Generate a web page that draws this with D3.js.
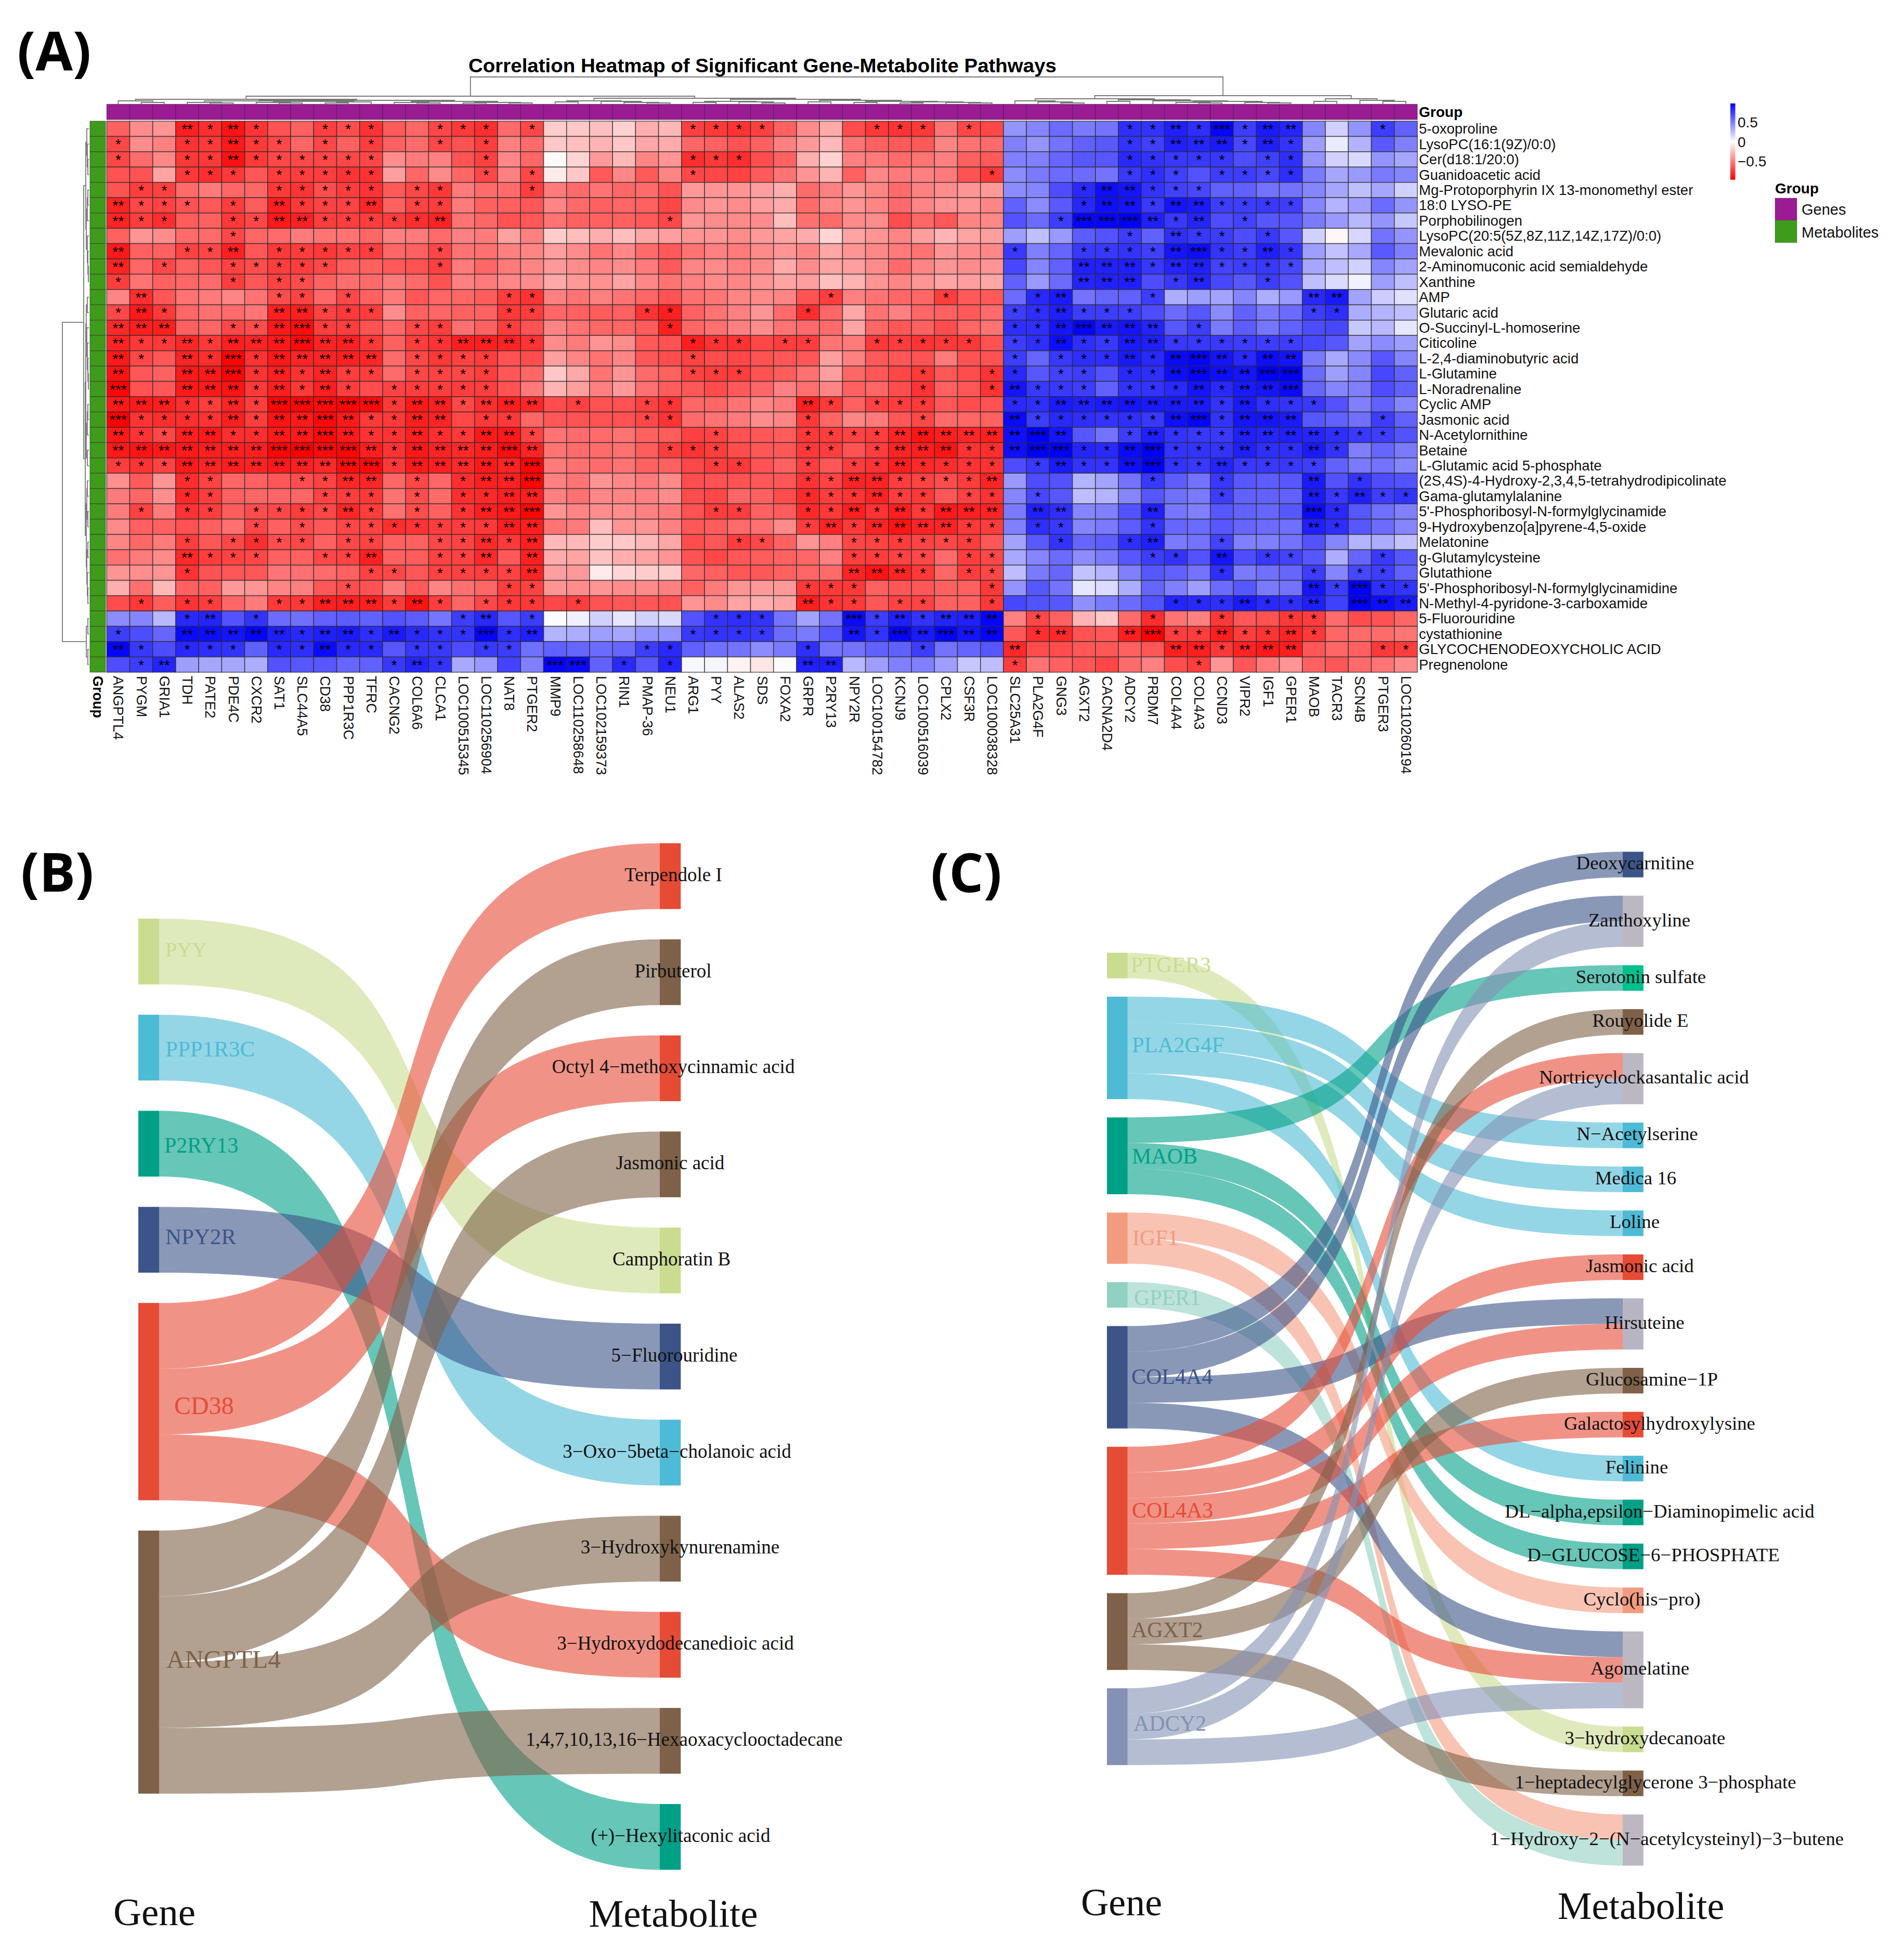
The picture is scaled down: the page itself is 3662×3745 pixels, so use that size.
<!DOCTYPE html>
<html>
<head>
<meta charset="utf-8">
<script src="https://cdn.jsdelivr.net/npm/d3@7"></script>
<style>
html,body{margin:0;padding:0;background:#fff}
svg{display:block}
</style>
</head>
<body>
<svg id="chart" width="3662" height="3745" viewBox="0 0 3662 3745"></svg>
<script>
// ---------- Panel A data ----------
const genes=["ANGPTL4","PYGM","GRIA1","TDH","PATE2","PDE4C","CXCR2","SAT1","SLC44A5","CD38","PPP1R3C","TFRC","CACNG2","COL6A6","CLCA1","LOC100515345","LOC110256904","NAT8","PTGER2","MMP9","LOC110258648","LOC102159373","RIN1","PMAP-36","NEU1","ARG1","PYY","ALAS2","SDS","FOXA2","GRPR","P2RY13","NPY2R","LOC100154782","KCNJ9","LOC100516039","CPLX2","CSF3R","LOC100038328","SLC25A31","PLA2G4F","GNG3","AGXT2","CACNA2D4","ADCY2","PRDM7","COL4A4","COL4A3","CCND3","VIPR2","IGF1","GPER1","MAOB","TACR3","SCN4B","PTGER3","LOC110260194"];
const metabolites=["5-oxoproline","LysoPC(16:1(9Z)/0:0)","Cer(d18:1/20:0)","Guanidoacetic acid","Mg-Protoporphyrin IX 13-monomethyl ester","18:0 LYSO-PE","Porphobilinogen","LysoPC(20:5(5Z,8Z,11Z,14Z,17Z)/0:0)","Mevalonic acid","2-Aminomuconic acid semialdehyde","Xanthine","AMP","Glutaric acid","O-Succinyl-L-homoserine","Citicoline","L-2,4-diaminobutyric acid","L-Glutamine","L-Noradrenaline","Cyclic AMP","Jasmonic acid","N-Acetylornithine","Betaine","L-Glutamic acid 5-phosphate","(2S,4S)-4-Hydroxy-2,3,4,5-tetrahydrodipicolinate","Gama-glutamylalanine","5'-Phosphoribosyl-N-formylglycinamide","9-Hydroxybenzo[a]pyrene-4,5-oxide","Melatonine","g-Glutamylcysteine","Glutathione","5'-Phosphoribosyl-N-formylglycinamidine","N-Methyl-4-pyridone-3-carboxamide","5-Fluorouridine","cystathionine","GLYCOCHENODEOXYCHOLIC ACID","Pregnenolone"];

const corr00=[-.62,-.45,-.42,-.88,-.82,-.92,-.8,-.68,-.62,-.75,-.7,-.8,-.65,-.6,-.72,-.78,-.82,-.58,-.72, -.2,-.22,-.25,-.18,-.32,-.28,-.75,-.78,-.8,-.75,-.62,-.45,-.33,-.7,-.78,-.8,-.78,-.55,-.72,-.72, .42,.48,.58,.52,.55,.82,.8,.88,.82,.98,.76,.9,.86,.48,.18,.42,.76,.62];
const corr01=[-.72,-.45,-.5,-.8,-.78,-.9,-.78,-.72,-.6,-.72,-.62,-.76,-.62,-.58,-.72,-.68,-.76,-.5,-.58, -.22,-.25,-.3,-.22,-.35,-.33,-.6,-.62,-.68,-.62,-.5,-.4,-.28,-.55,-.62,-.65,-.65,-.48,-.55,-.58, .5,.42,.55,.62,.65,.8,.75,.88,.85,.9,.72,.88,.8,.38,.08,.3,.65,.5];
const corr02=[-.72,-.58,-.47,-.78,-.78,-.93,-.78,-.72,-.72,-.72,-.72,-.72,-.45,-.52,-.5,-.68,-.75,-.47,-.6, -.02,-.17,-.4,-.28,-.48,-.42,-.82,-.78,-.82,-.7,-.62,-.32,-.18,-.5,-.52,-.58,-.55,-.5,-.62,-.65, .5,.5,.6,.66,.66,.84,.8,.78,.78,.78,.7,.75,.82,.42,.18,.15,.42,.35];
const corr03=[-.68,-.68,-.36,-.78,-.82,-.78,-.66,-.76,-.76,-.76,-.8,-.8,-.38,-.6,-.46,-.6,-.72,-.5,-.72, -.08,-.22,-.65,-.47,-.65,-.48,-.72,-.72,-.74,-.65,-.55,-.42,-.3,-.62,-.47,-.52,-.5,-.52,-.68,-.78, .45,.52,.58,.58,.55,.78,.82,.75,.68,.76,.76,.72,.82,.52,.35,.4,.52,.48];
const corr04=[-.68,-.76,-.75,-.58,-.52,-.6,-.6,-.78,-.8,-.7,-.76,-.8,-.65,-.72,-.78,-.52,-.58,-.58,-.76, -.52,-.58,-.55,-.6,-.58,-.68,-.4,-.42,-.42,-.38,-.32,-.58,-.5,-.42,-.48,-.58,-.5,-.45,-.42,-.4, .45,.48,.7,.84,.95,.92,.8,.75,.72,.62,.62,.55,.55,.48,.35,.25,.35,.18];
const corr05=[-.86,-.72,-.74,-.68,-.65,-.76,-.64,-.88,-.78,-.74,-.74,-.85,-.62,-.74,-.76,-.52,-.62,-.62,-.66, -.48,-.58,-.62,-.6,-.62,-.72,-.46,-.42,-.45,-.38,-.33,-.58,-.47,-.42,-.48,-.58,-.48,-.42,-.42,-.48, .62,.45,.65,.85,.94,.92,.78,.92,.9,.76,.76,.78,.76,.48,.3,.38,.58,.42];
const corr06=[-.86,-.76,-.82,-.64,-.62,-.78,-.72,-.9,-.87,-.76,-.76,-.76,-.76,-.82,-.86,-.55,-.6,-.68,-.66, -.55,-.62,-.62,-.62,-.65,-.72,-.42,-.45,-.46,-.45,-.26,-.56,-.58,-.46,-.45,-.7,-.6,-.66,-.48,-.47, .68,.58,.76,.98,.98,1,.88,.78,.86,.7,.74,.66,.66,.52,.4,.28,.42,.22];
const corr07=[-.62,-.42,-.45,-.58,-.58,-.72,-.6,-.58,-.52,-.55,-.55,-.6,-.5,-.52,-.58,-.5,-.52,-.37,-.5, -.2,-.26,-.32,-.26,-.35,-.38,-.42,-.42,-.45,-.4,-.36,-.33,-.17,-.36,-.42,-.48,-.38,-.3,-.36,-.38, .38,.25,.4,.64,.68,.76,.62,.82,.78,.76,.7,.78,.66,.18,-.03,.16,.55,.42];
const corr08=[-.9,-.62,-.62,-.74,-.72,-.87,-.66,-.78,-.76,-.78,-.74,-.76,-.6,-.62,-.72,-.55,-.56,-.5,-.48, -.38,-.45,-.55,-.47,-.58,-.65,-.55,-.5,-.52,-.46,-.42,-.48,-.35,-.42,-.47,-.52,-.55,-.42,-.45,-.47, .78,.5,.6,.78,.78,.8,.75,.92,.95,.8,.76,.88,.8,.38,.24,.34,.65,.5];
const corr09=[-.86,-.6,-.72,-.62,-.66,-.74,-.7,-.76,-.76,-.72,-.64,-.62,-.65,-.68,-.75,-.52,-.6,-.52,-.48, -.4,-.45,-.48,-.45,-.52,-.65,-.48,-.46,-.5,-.46,-.33,-.45,-.36,-.38,-.45,-.58,-.48,-.42,-.45,-.42, .72,.48,.62,.87,.87,.88,.78,.86,.88,.74,.76,.78,.72,.35,.25,.18,.48,.36];
const corr10=[-.76,-.55,-.62,-.6,-.58,-.76,-.66,-.74,-.7,-.62,-.57,-.58,-.52,-.58,-.68,-.5,-.52,-.47,-.45, -.34,-.4,-.43,-.36,-.47,-.55,-.5,-.46,-.48,-.42,-.36,-.38,-.25,-.3,-.42,-.48,-.42,-.36,-.38,-.35, .62,.4,.58,.86,.87,.88,.7,.78,.86,.72,.66,.76,.68,.25,.14,.05,.38,.25];
const corr11=[-.48,-.82,-.66,-.55,-.52,-.48,-.55,-.7,-.74,-.6,-.72,-.62,-.52,-.66,-.6,-.6,-.64,-.76,-.8, -.5,-.55,-.5,-.55,-.6,-.68,-.56,-.54,-.48,-.46,-.48,-.68,-.76,-.5,-.55,-.6,-.6,-.76,-.65,-.65, .58,.84,.9,.55,.6,.62,.76,.32,.38,.36,.48,.32,.4,.84,.9,.36,.2,.12];
const corr12=[-.72,-.9,-.78,-.6,-.56,-.58,-.54,-.88,-.88,-.74,-.78,-.76,-.45,-.62,-.6,-.62,-.62,-.78,-.76, -.6,-.62,-.64,-.62,-.8,-.88,-.62,-.55,-.5,-.42,-.58,-.82,-.6,-.35,-.55,-.5,-.6,-.62,-.65,-.58, .76,.82,.88,.76,.76,.76,.7,.58,.66,.46,.62,.52,.58,.76,.82,.32,.3,.25];
const corr13=[-.84,-.88,-.88,-.62,-.6,-.72,-.7,-.9,-.95,-.76,-.76,-.68,-.6,-.72,-.76,-.56,-.62,-.76,-.68, -.48,-.55,-.6,-.6,-.64,-.88,-.6,-.56,-.5,-.45,-.55,-.58,-.58,-.36,-.6,-.66,-.62,-.7,-.6,-.55, .82,.82,.92,.98,.9,.92,.86,.66,.76,.52,.64,.54,.62,.7,.72,.22,.28,.1];
const corr14=[-.86,-.78,-.78,-.85,-.78,-.88,-.86,-.9,-.96,-.86,-.87,-.78,-.62,-.76,-.8,-.88,-.88,-.86,-.8, -.45,-.52,-.42,-.45,-.65,-.68,-.88,-.8,-.8,-.72,-.76,-.76,-.54,-.52,-.78,-.76,-.8,-.78,-.78,-.68, .76,.82,.95,.82,.78,.9,.88,.78,.78,.78,.76,.76,.76,.72,.66,.36,.45,.38];
const corr15=[-.9,-.72,-.66,-.86,-.82,-.98,-.8,-.9,-.86,-.86,-.87,-.85,-.58,-.72,-.78,-.74,-.76,-.68,-.7, -.38,-.48,-.55,-.48,-.66,-.7,-.74,-.7,-.72,-.68,-.66,-.66,-.38,-.5,-.65,-.66,-.68,-.52,-.68,-.68, .76,.6,.78,.82,.82,.9,.84,.96,.98,.92,.84,.95,.92,.52,.34,.46,.66,.48];
const corr16=[-.92,-.66,-.62,-.9,-.9,-.98,-.8,-.88,-.8,-.86,-.76,-.76,-.58,-.72,-.74,-.72,-.76,-.66,-.6, -.22,-.34,-.55,-.42,-.58,-.62,-.74,-.76,-.76,-.68,-.64,-.56,-.38,-.6,-.66,-.72,-.78,-.66,-.7,-.8, .84,.66,.74,.76,.68,.84,.82,.95,.98,.94,.92,1,1,.58,.38,.48,.72,.62];
const corr17=[-.98,-.68,-.66,-.9,-.9,-.92,-.78,-.88,-.78,-.88,-.76,-.7,-.74,-.76,-.76,-.76,-.76,-.68,-.52, -.3,-.38,-.5,-.4,-.56,-.64,-.66,-.7,-.65,-.6,-.5,-.56,-.48,-.62,-.6,-.7,-.8,-.62,-.66,-.8, .92,.78,.78,.76,.62,.8,.8,.84,.92,.84,.9,.92,.96,.6,.48,.5,.7,.62];
const corr18=[-.9,-.9,-.88,-.82,-.76,-.86,-.76,-.98,-.98,-.96,-.98,-.96,-.78,-.9,-.88,-.72,-.82,-.88,-.85, -.7,-.75,-.68,-.68,-.75,-.8,-.6,-.6,-.55,-.48,-.52,-.88,-.78,-.62,-.74,-.76,-.78,-.66,-.7,-.68, .84,.82,.9,.88,.9,.92,.9,.9,.9,.8,.9,.82,.8,.78,.68,.5,.62,.48];
const corr19=[-1,-.8,-.82,-.82,-.8,-.88,-.76,-.92,-.9,-.96,-.9,-.78,-.78,-.88,-.86,-.72,-.78,-.78,-.6, -.66,-.68,-.68,-.68,-.72,-.8,-.58,-.55,-.52,-.45,-.48,-.78,-.6,-.48,-.52,-.66,-.72,-.58,-.6,-.62, .96,.76,.84,.82,.8,.82,.78,.94,.98,.8,.92,.92,.9,.66,.62,.56,.76,.62];
const corr20=[-.9,-.8,-.72,-.88,-.9,-.82,-.82,-.9,-.9,-.96,-.9,-.8,-.8,-.88,-.82,-.78,-.9,-.9,-.74, -.55,-.58,-.58,-.55,-.62,-.64,-.75,-.74,-.68,-.66,-.64,-.78,-.76,-.74,-.76,-.86,-.92,-.88,-.85,-.88, .94,1,.92,.66,.55,.76,.88,.8,.78,.78,.88,.86,.88,.86,.82,.78,.76,.68];
const corr21=[-.9,-.92,-.9,-.9,-.88,-.88,-.88,-.98,-1,-.96,-.98,-.88,-.8,-.9,-.86,-.84,-.88,-.95,-.86, -.55,-.58,-.58,-.56,-.64,-.76,-.8,-.76,-.7,-.66,-.66,-.78,-.76,-.68,-.76,-.86,-.88,-.92,-.8,-.82, .94,1,1,.86,.84,.96,1,.8,.8,.8,.88,.82,.82,.9,.8,.5,.6,.52];
const corr22=[-.76,-.8,-.74,-.9,-.86,-.88,-.86,-.9,-.88,-.84,-.95,-.96,-.78,-.9,-.88,-.84,-.9,-.86,-.98, -.52,-.56,-.58,-.55,-.62,-.62,-.72,-.76,-.78,-.68,-.62,-.76,-.66,-.76,-.8,-.88,-.84,-.82,-.8,-.8, .7,.78,.9,.8,.8,.94,1,.8,.78,.86,.78,.78,.78,.76,.62,.52,.55,.48];
const corr23=[-.44,-.65,-.42,-.82,-.74,-.6,-.62,-.66,-.7,-.74,-.85,-.85,-.6,-.72,-.6,-.82,-.88,-.87,-.98, -.5,-.54,-.42,-.47,-.52,-.46,-.7,-.68,-.68,-.66,-.66,-.8,-.74,-.86,-.86,-.76,-.74,-.7,-.76,-.86, .4,.7,.68,.3,.36,.55,.78,.64,.55,.78,.66,.64,.66,.9,.68,.8,.7,.68];
const corr24=[-.52,-.6,-.44,-.84,-.76,-.62,-.6,-.6,-.6,-.74,-.76,-.78,-.55,-.7,-.58,-.82,-.84,-.88,-.88, -.5,-.56,-.47,-.48,-.5,-.45,-.7,-.72,-.6,-.62,-.7,-.84,-.76,-.8,-.86,-.76,-.78,-.66,-.74,-.8, .48,.72,.66,.26,.3,.48,.66,.56,.52,.76,.62,.62,.62,.9,.78,.88,.76,.8];
const corr25=[-.52,-.74,-.52,-.8,-.76,-.64,-.7,-.72,-.76,-.72,-.85,-.76,-.56,-.7,-.62,-.8,-.88,-.9,-.98, -.42,-.48,-.45,-.45,-.5,-.52,-.68,-.76,-.76,-.62,-.64,-.84,-.78,-.88,-.8,-.88,-.78,-.9,-.88,-.86, .52,.88,.82,.48,.5,.68,.88,.54,.5,.66,.62,.6,.66,.96,.84,.66,.56,.5];
const corr26=[-.46,-.62,-.62,-.68,-.62,-.56,-.72,-.62,-.7,-.66,-.72,-.74,-.82,-.8,-.76,-.76,-.78,-.88,-.88, -.55,-.52,-.26,-.42,-.42,-.5,-.66,-.64,-.58,-.56,-.46,-.76,-.86,-.78,-.86,-.92,-.86,-.86,-.78,-.76, .5,.82,.78,.48,.52,.64,.8,.6,.58,.66,.6,.58,.56,.88,.82,.66,.58,.48];
const corr27=[-.48,-.6,-.52,-.76,-.66,-.72,-.82,-.7,-.72,-.62,-.72,-.74,-.62,-.62,-.72,-.74,-.84,-.78,-.88, -.28,-.28,-.2,-.22,-.28,-.35,-.7,-.66,-.76,-.72,-.62,-.42,-.5,-.72,-.74,-.76,-.74,-.72,-.76,-.66, .36,.65,.8,.6,.64,.82,.88,.52,.55,.74,.5,.5,.55,.68,.48,.3,.33,.24];
const corr28=[-.56,-.52,-.46,-.84,-.76,-.74,-.72,-.62,-.62,-.72,-.74,-.88,-.62,-.64,-.74,-.74,-.84,-.65,-.88, -.33,-.36,-.24,-.32,-.36,-.42,-.68,-.72,-.66,-.64,-.62,-.6,-.5,-.76,-.76,-.74,-.72,-.58,-.76,-.72, .34,.48,.58,.45,.52,.66,.76,.8,.68,.92,.7,.78,.74,.66,.32,.6,.78,.66];
const corr29=[-.42,-.44,-.42,-.8,-.68,-.66,-.66,-.54,-.56,-.58,-.62,-.74,-.72,-.66,-.74,-.74,-.76,-.74,-.86, -.38,-.4,-.08,-.16,-.2,-.2,-.6,-.62,-.66,-.66,-.62,-.6,-.58,-.86,-.92,-.86,-.78,-.6,-.76,-.72, .26,.52,.6,.24,.3,.5,.66,.62,.55,.82,.52,.56,.6,.76,.48,.72,.76,.62];
const corr30=[-.32,-.56,-.28,-.62,-.62,-.4,-.42,-.48,-.5,-.66,-.7,-.68,-.52,-.65,-.48,-.56,-.6,-.76,-.74, -.42,-.45,-.42,-.45,-.46,-.5,-.62,-.52,-.42,-.4,-.4,-.78,-.78,-.78,-.62,-.66,-.66,-.62,-.62,-.78, .42,.66,.55,.1,.14,.32,.6,.5,.38,.58,.66,.52,.55,.92,.76,1,.82,.8];
const corr31=[-.7,-.78,-.64,-.8,-.76,-.6,-.52,-.78,-.78,-.88,-.88,-.88,-.78,-.92,-.76,-.6,-.72,-.78,-.78, -.72,-.76,-.68,-.66,-.66,-.68,-.42,-.46,-.36,-.32,-.36,-.88,-.8,-.78,-.66,-.74,-.74,-.62,-.62,-.78, .72,.68,.66,.44,.52,.58,.68,.86,.84,.82,.9,.84,.82,.88,.75,1,.95,.9];
const corr32=[.45,.48,.28,.84,.86,.68,.8,.58,.56,.62,.64,.62,.68,.64,.54,.76,.84,.66,.76, .01,.06,.18,.1,.18,.15,.68,.8,.82,.8,.55,.36,.55,.96,.76,.88,.8,.86,.88,.98, -.5,-.72,-.62,-.3,-.22,-.58,-.82,-.55,-.5,-.78,-.66,-.68,-.78,-.76,-.58,-.7,-.68,-.6];
const corr33=[.76,.7,.6,.96,.95,.92,.98,.88,.84,.88,.9,.82,.9,.84,.8,.8,.98,.82,.88, .3,.32,.38,.35,.42,.42,.78,.8,.8,.78,.58,.52,.66,.92,.8,.98,.9,.98,.92,.98, -.66,-.82,-.84,-.68,-.66,-.88,-1,-.76,-.76,-.88,-.76,-.8,-.86,-.78,-.6,-.58,-.58,-.54];
const corr34=[.98,.78,.7,.84,.82,.8,.62,.84,.82,.96,.84,.84,.66,.78,.78,.7,.78,.76,.56, .62,.6,.58,.6,.76,.84,.62,.56,.55,.45,.52,.82,.55,.55,.62,.62,.76,.55,.6,.66, -.84,-.7,-.7,-.66,-.66,-.62,-.66,-.88,-.88,-.78,-.86,-.9,-.88,-.66,-.6,-.62,-.78,-.76];
const corr35=[.7,.76,.86,.38,.35,.35,.32,.68,.66,.66,.6,.62,.78,.86,.8,.34,.4,.74,.5, .98,.96,.62,.84,.66,.86,.03,.04,-.05,-.1,.01,.88,.88,.28,.38,.5,.5,.38,.22,.26, -.76,-.55,-.62,-.66,-.72,-.58,-.5,-.7,-.76,-.42,-.66,-.52,-.42,-.62,-.66,-.58,-.54,-.46];
const correlation=[corr00,corr01,corr02,corr03,corr04,corr05,corr06,corr07,corr08,corr09,corr10,corr11,corr12,corr13,corr14,corr15,corr16,corr17,corr18,corr19,corr20,corr21,corr22,corr23,corr24,corr25,corr26,corr27,corr28,corr29,corr30,corr31,corr32,corr33,corr34,corr35];

// number of significance stars per cell, one string per metabolite
const starCounts=[
"0002121001110011101 00000011110000111010 000001121312200010",
"1001121101010010100 00000000000000000000 000001122212100000",
"1001121111110000100 00000011100000000000 000001111101100000",
"0001110111110000101 00000010000000000001 000001110111100000",
"0110000111110110001 00000000000000000000 000122111000000000",
"2111010211120110000 00000000000000000000 000122122111100000",
"2110011221111120000 00000100000000000000 001333212010000000",
"0000010000000000000 00000000000000000000 000001021101000000",
"2001120111110010000 00000000000000000000 100111123112100000",
"2010011111000010000 00000000000000000000 000222122111100000",
"1000010110000000000 00000000000000000000 000222012001000000",
"0200000110100000011 00000000000010000100 012000100000022000",
"1210000221110000011 00001100000100000000 112111000000011000",
"2220011231100110010 00000100000000000000 112322201000000000",
"2112122232210112221 00000011101100111110 112112211111100000",
"2102131222220111100 00000010000000000000 101112123212200000",
"2002231212110111100 00000011100000001001 101101123223300000",
"3002221212101111100 00000000000000001001 211101112122300000",
"2221121333331221222 01001100000210111000 112222222121110000",
"3111121223211220110 00001100000100001000 211111123122200010",
"2112211223211211221 00000001000111122222 232001211122221110",
"2222222333321222232 00000111000110122211 233112311121121000",
"1112222222331222223 00000001100101121111 012112311211110000",
"0001100011220101223 00000000000112211112 000000100100020100",
"0001100001110101122 00000000000111211011 010000000100021211",
"0101101111210101223 00000001100112121222 022000200000031000",
"0000001010111111122 00000000000121222211 011000100000021000",
"0001011110110011212 00000000110001111110 001001200100000000",
"0002111001120011202 00000000000001111011 000000110201100010",
"0001000000011011112 00000000000002221011 000000000100010110",
"0000000000100000011 00000000000111000001 000000000000021311",
"0101100112221210111 01000000000211011001 000000011121120322",
"0001201000000001201 00000001110003121222 010000100100110000",
"1002222212212111312 00000011110002132322 012002311211210000",
"2101110112110110110 00001100000100001000 200000022122200011",
"0120000000001210000 33010100000220000000 100000001000000000"
];
// dendrogram merges: [height, left, right], a plain number is a leaf index
const geneTree=[52,
 [15,
  [9,[6,0,[3,1,2]],[7,[6,[3,3,[2,4,5]],[5,[3,6,[2,7,8]],[4,[2,9,10],11]]],[5,[3,12,[2,13,14]],[3,[2,15,16],[2,17,18]]]]],
  [11,[6,[4,19,20],[5,21,[3,22,[2,23,24]]]],[9,[5,[3,25,26],[4,27,[2,28,29]]],[7,[4,30,31],[5,[3,32,33],[4,[2,34,35],[3,36,[2,37,38]]]]]]]
 ],
 [16,[10,[6,39,[4,40,[2,41,42]]],[8,[5,43,44],[6,45,[5,[3,46,[2,47,48]],[3,49,[2,50,51]]]]]],[10,[5,52,53],[7,54,[5,55,56]]]]
];
const metaboliteTree=[51,
 [10,
  [6,[4,0,[3,1,[2,2,3]]],[5,[3,[2,4,5],6],[3,7,[2,8,[1,9,10]]]]],
  [7,[6,[5,[3,11,12],[4,13,[3,14,[2,15,[1,16,17]]]]],[5,[3,[2,18,19],20],[3,21,22]]],[5,[4,[3,23,24],[2,25,26]],[4,[2,27,28],[3,29,[2,30,31]]]]]
 ],
 [5,[2,32,33],[2,34,35]]
];
const colorTicks=[0.5,0,-0.5];
const groupNames=["Genes","Metabolites"];
const groupColors=["#9b1b94","#3f9b1a"];

// ---------- Panel B data ----------
const genesB=["PYY","PPP1R3C","P2RY13","NPY2R","CD38","ANGPTL4"];
const geneColorsB=["#c9dc8f","#4dbbd5","#00a087","#3c5488","#e64b35","#7e6148"];
const metabolitesB=["Terpendole I","Pirbuterol","Octyl 4−methoxycinnamic acid","Jasmonic acid","Camphoratin B","5−Fluorouridine","3−Oxo−5beta−cholanoic acid","3−Hydroxykynurenamine","3−Hydroxydodecanedioic acid","1,4,7,10,13,16−Hexaoxacyclooctadecane","(+)−Hexylitaconic acid"];
const metaboliteColorsB=["#e64b35","#7e6148","#e64b35","#7e6148","#c9dc8f","#3c5488","#4dbbd5","#7e6148","#e64b35","#7e6148","#00a087"];
const linkSourceB=["PYY","PPP1R3C","P2RY13","NPY2R","CD38","CD38","CD38","ANGPTL4","ANGPTL4","ANGPTL4","ANGPTL4"];
const linkTargetB=["Camphoratin B","3−Oxo−5beta−cholanoic acid","(+)−Hexylitaconic acid","5−Fluorouridine","Terpendole I","Octyl 4−methoxycinnamic acid","3−Hydroxydodecanedioic acid","Pirbuterol","Jasmonic acid","3−Hydroxykynurenamine","1,4,7,10,13,16−Hexaoxacyclooctadecane"];
const linkValueB=[1,1,1,1,1,1,1,1,1,1,1];

// ---------- Panel C data ----------
const genesC=["PTGER3","PLA2G4F","MAOB","IGF1","GPER1","COL4A4","COL4A3","AGXT2","ADCY2"];
const geneColorsC=["#c9dc8f","#4dbbd5","#00a087","#f39b7f","#91d1c2","#3c5488","#e64b35","#7e6148","#8491b4"];
const metabolitesC=["Deoxycarnitine","Zanthoxyline","Serotonin sulfate","Rouyolide E","Nortricyclockasantalic acid","N−Acetylserine","Medica 16","Loline","Jasmonic acid","Hirsuteine","Glucosamine−1P","Galactosylhydroxylysine","Felinine","DL−alpha,epsilon−Diaminopimelic acid","D−GLUCOSE−6−PHOSPHATE","Cyclo(his−pro)","Agomelatine","3−hydroxydecanoate","1−heptadecylglycerone 3−phosphate","1−Hydroxy−2−(N−acetylcysteinyl)−3−butene"];
const metaboliteColorsC=["#3c5488","#bcb8c2","#00c18e","#7e6148","#bcb8c2","#4dbbd5","#4dbbd5","#4dbbd5","#e64b35","#b8b5c2","#7e6148","#e64b35","#4dbbd5","#00a087","#00a087","#f39b7f","#bcb8c2","#c9dc8f","#7e6148","#bcb8c2"];
const linkSourceC=["PTGER3","PLA2G4F","PLA2G4F","PLA2G4F","PLA2G4F","MAOB","MAOB","MAOB","IGF1","IGF1","GPER1","COL4A4","COL4A4","COL4A4","COL4A4","COL4A3","COL4A3","COL4A3","COL4A3","COL4A3","AGXT2","AGXT2","AGXT2","ADCY2","ADCY2","ADCY2"];
const linkTargetC=["3−hydroxydecanoate","N−Acetylserine","Medica 16","Loline","Felinine","Serotonin sulfate","DL−alpha,epsilon−Diaminopimelic acid","D−GLUCOSE−6−PHOSPHATE","Cyclo(his−pro)","1−Hydroxy−2−(N−acetylcysteinyl)−3−butene","1−Hydroxy−2−(N−acetylcysteinyl)−3−butene","Deoxycarnitine","Zanthoxyline","Hirsuteine","Agomelatine","Nortricyclockasantalic acid","Jasmonic acid","Hirsuteine","Galactosylhydroxylysine","Agomelatine","Rouyolide E","Glucosamine−1P","1−heptadecylglycerone 3−phosphate","Zanthoxyline","Nortricyclockasantalic acid","Agomelatine"];
const linkValueC=linkSourceC.map(()=>1);

// ---------- layout (not data) ----------
const geneLabelLayoutB=[[318,1826,40],[318,2017,43],[316,2203,42],[318,2378,43],[335,2703,48],[320,3191,49.5]];
const metaboliteCentersB=[1295,1294.5,1295,1289,1291.6,1297,1302,1308,1299,1316,1309];
const geneLabelLayoutC=[[2175,1856,42],[2177,2009,42.5],[2177,2224,42],[2178,2381,42],[2181,2496,42],[2176,2648,42],[2177,2905,42],[2176,3135,42],[2180,3315,42]];
const metaboliteCentersC=[3145,3153,3156,3155,3162,3149,3146,3144,3154,3163,3177,3192,3148,3192,3180,3158,3154,3164,3184,3206];
const curveness=0.72;

const SANS="'Liberation Sans',Arial,sans-serif", SERIF="'Liberation Serif','Times New Roman',serif";
const svg=d3.select("#chart");

// ---------- Panel A ----------
const A=svg.append("g");
const xCol=d3.scaleBand().domain(d3.range(genes.length)).range([205.3,2726]);
const yRow=d3.scaleBand().domain(d3.range(metabolites.length)).range([233,1293]);
const color=d3.scaleLinear().domain([-1,0,1]).range(["#ff0000","#ffffff","#0000ff"]);
const cellStroke="rgba(40,40,40,0.72)";

const cells=metabolites.flatMap((m,r)=>genes.map((g,c)=>({r,c,v:correlation[r][c],n:+starCounts[r].replace(/ /g,"")[c]})));
A.append("g").selectAll("rect").data(cells).join("rect")
  .attr("x",d=>xCol(d.c)).attr("y",d=>yRow(d.r)).attr("width",xCol.bandwidth()).attr("height",yRow.bandwidth())
  .attr("fill",d=>color(d.v)).attr("stroke",cellStroke).attr("stroke-width",1.6);
A.append("g").selectAll("text").data(cells.filter(d=>d.n>0)).join("text")
  .attr("x",d=>xCol(d.c)+xCol.bandwidth()/2).attr("y",d=>yRow(d.r)+25)
  .attr("text-anchor","middle").attr("font-family",SANS).attr("font-size",28).attr("fill","#000")
  .text(d=>"*".repeat(d.n));

// annotation bars
A.append("g").selectAll("rect").data(genes).join("rect")
  .attr("x",(d,i)=>xCol(i)).attr("y",200.5).attr("width",xCol.bandwidth()).attr("height",29.5)
  .attr("fill",groupColors[0]).attr("stroke","rgba(40,40,40,0.55)").attr("stroke-width",1.2);
A.append("g").selectAll("rect").data(metabolites).join("rect")
  .attr("x",173).attr("y",(d,i)=>yRow(i)).attr("width",30).attr("height",yRow.bandwidth())
  .attr("fill",groupColors[1]).attr("stroke","rgba(40,40,40,0.55)").attr("stroke-width",1.2);

// dendrograms
function treePath(node,pos,hPos,horizontalLeaves){
  let segs=[];
  function walk(n){
    if(typeof n==="number") return {p:pos(n),h:0};
    const a=walk(n[1]), b=walk(n[2]), h=n[0];
    const H=hPos(h), A0=hPos(a.h), B0=hPos(b.h);
    segs.push(horizontalLeaves
      ? `M${a.p},${A0}V${H}H${b.p}V${B0}`
      : `M${A0},${a.p}H${H}V${b.p}H${B0}`);
    return {p:(a.p+b.p)/2,h};
  }
  walk(node);
  return segs.join("");
}
const topH=d3.scaleLinear().domain([0,52]).range([200,148]);
const leftH=d3.scaleLinear().domain([0,51]).range([171,120]);
A.append("path").attr("d",treePath(geneTree,i=>xCol(i)+xCol.bandwidth()/2,topH,true))
  .attr("fill","none").attr("stroke","#777").attr("stroke-width",1.8);
A.append("path").attr("d",treePath(metaboliteTree,i=>yRow(i)+yRow.bandwidth()/2,leftH,false))
  .attr("fill","none").attr("stroke","#777").attr("stroke-width",1.8);

// labels
A.append("text").attr("x",901).attr("y",139).attr("font-family",SANS).attr("font-weight","bold")
  .attr("font-size",37).attr("textLength",1131).attr("lengthAdjust","spacingAndGlyphs")
  .text("Correlation Heatmap of Significant Gene-Metabolite Pathways");
A.append("g").selectAll("text").data(metabolites).join("text")
  .attr("x",2729).attr("y",(d,i)=>yRow(i)+yRow.bandwidth()/2).attr("dominant-baseline","central")
  .attr("font-family",SANS).attr("font-size",27.5).attr("fill","#111").text(d=>d);
A.append("text").attr("x",2729).attr("y",215).attr("dominant-baseline","central")
  .attr("font-family",SANS).attr("font-weight","bold").attr("font-size",28).text("Group");
A.append("g").selectAll("text").data(genes).join("text")
  .attr("transform",(d,i)=>`translate(${xCol(i)+xCol.bandwidth()/2},1300) rotate(90)`)
  .attr("dominant-baseline","central").attr("font-family",SANS).attr("font-size",27).attr("fill","#111").text(d=>d);
A.append("text").attr("transform","translate(188,1300) rotate(90)").attr("dominant-baseline","central")
  .attr("font-family",SANS).attr("font-weight","bold").attr("font-size",27).text("Group");

// colour bar
const yBar=d3.scaleLinear().domain([-0.97,0.995]).range([345.7,199]);
const defs=svg.append("defs");
const grad=defs.append("linearGradient").attr("id","cbar").attr("x1",0).attr("x2",0).attr("y1",0).attr("y2",1);
grad.append("stop").attr("offset","0%").attr("stop-color","#0000ff");
grad.append("stop").attr("offset","50%").attr("stop-color","#ffffff");
grad.append("stop").attr("offset","100%").attr("stop-color","#ff0000");
A.append("rect").attr("x",3328).attr("y",yBar(0.995)).attr("width",9.5).attr("height",yBar(-0.97)-yBar(0.995)).attr("fill","url(#cbar)");
A.append("g").selectAll("text").data(colorTicks).join("text")
  .attr("x",3342).attr("y",d=>yBar(d)).attr("dominant-baseline","central")
  .attr("font-family",SANS).attr("font-size",28).attr("fill","#111")
  .text(d=>d<0?"−"+Math.abs(d):d);
// group legend
A.append("text").attr("x",3414).attr("y",362).attr("dominant-baseline","central")
  .attr("font-family",SANS).attr("font-weight","bold").attr("font-size",28).text("Group");
A.append("g").selectAll("rect").data(groupNames).join("rect")
  .attr("x",3414).attr("y",(d,i)=>381+i*42.8).attr("width",42).attr("height",42.8)
  .attr("fill",(d,i)=>groupColors[i]).attr("stroke",(d,i)=>"rgba(60,60,60,.4)").attr("stroke-width",1);
A.append("g").selectAll("text").data(groupNames).join("text")
  .attr("x",3465).attr("y",(d,i)=>403+i*43.7).attr("dominant-baseline","central")
  .attr("font-family",SANS).attr("font-size",29).attr("fill","#111").text(d=>d);

// ---------- Sankey panels ----------
function sankey(cfg){
  const g=svg.append("g");
  const h=d3.scaleLinear().domain([0,1]).range([0,cfg.unit]);
  const srcTotal=d3.rollup(cfg.source.map((s,i)=>[s,cfg.value[i]]),v=>d3.sum(v,d=>d[1]),d=>d[0]);
  const tgtTotal=d3.rollup(cfg.target.map((s,i)=>[s,cfg.value[i]]),v=>d3.sum(v,d=>d[1]),d=>d[0]);
  const place=(names,total,start)=>{let y=start;const m=new Map();names.forEach(n=>{const H=h(total.get(n));m.set(n,{y,H,off:0});y+=H+cfg.gap;});return m;};
  const L=place(cfg.genes,srcTotal,cfg.leftTop), R=place(cfg.mets,tgtTotal,cfg.rightTop);
  const geneCol=new Map(cfg.genes.map((n,i)=>[n,cfg.geneColors[i]]));
  const links=cfg.source.map((s,i)=>{
    const a=L.get(s), b=R.get(cfg.target[i]), t=h(cfg.value[i]);
    const d={y0:a.y+a.off,y1:b.y+b.off,t,color:geneCol.get(s)};
    a.off+=t; b.off+=t; return d;
  });
  const x0=cfg.leftX+cfg.nodeW, x1=cfg.rightX;
  const c0=x0+(x1-x0)*curveness, c1=x0+(x1-x0)*(1-curveness);
  g.append("g").selectAll("path").data(links).join("path")
    .attr("d",d=>`M${x0},${d.y0}C${c0},${d.y0} ${c1},${d.y1} ${x1},${d.y1}L${x1},${d.y1+d.t}C${c1},${d.y1+d.t} ${c0},${d.y0+d.t} ${x0},${d.y0+d.t}Z`)
    .attr("fill",d=>d.color).attr("fill-opacity",0.6);
  g.append("g").selectAll("rect").data(cfg.genes).join("rect")
    .attr("x",cfg.leftX).attr("y",d=>L.get(d).y).attr("width",cfg.nodeW).attr("height",d=>L.get(d).H)
    .attr("fill",(d,i)=>cfg.geneColors[i]);
  g.append("g").selectAll("rect").data(cfg.mets).join("rect")
    .attr("x",cfg.rightX).attr("y",d=>R.get(d).y).attr("width",cfg.nodeW).attr("height",d=>R.get(d).H)
    .attr("fill",(d,i)=>cfg.metColors[i]);
  g.append("g").selectAll("text").data(cfg.genes).join("text")
    .attr("x",(d,i)=>cfg.geneLayout[i][0]).attr("y",(d,i)=>cfg.geneLayout[i][1])
    .attr("font-size",(d,i)=>cfg.geneLayout[i][2]).attr("dominant-baseline","central")
    .attr("font-family",SERIF).attr("fill",(d,i)=>cfg.geneColors[i]).text(d=>d);
  g.append("g").selectAll("text").data(cfg.mets).join("text")
    .attr("x",(d,i)=>cfg.metCenters[i]).attr("y",d=>R.get(d).y+R.get(d).H/2-3)
    .attr("text-anchor","middle").attr("dominant-baseline","central")
    .attr("font-family",SERIF).attr("font-size",cfg.metFont).attr("fill","#111").text(d=>d);
  cfg.titles.forEach(t=>g.append("text").attr("x",t[1]).attr("y",t[2]).attr("text-anchor","middle")
    .attr("dominant-baseline","central").attr("font-family",SERIF).attr("font-size",t[3]).attr("fill","#111").text(t[0]));
}
sankey({genes:genesB,geneColors:geneColorsB,mets:metabolitesB,metColors:metaboliteColorsB,source:linkSourceB,target:linkTargetB,value:linkValueB,
  unit:126.5,gap:58.3,leftTop:1767,rightTop:1622,leftX:266,rightX:1269,nodeW:40.3,geneLayout:geneLabelLayoutB,metCenters:metaboliteCentersB,metFont:37,
  titles:[["Gene",297,3677,75],["Metabolite",1295,3680,75]]});
sankey({genes:genesC,geneColors:geneColorsC,mets:metabolitesC,metColors:metaboliteColorsC,source:linkSourceC,target:linkTargetC,value:linkValueC,
  unit:49.25,gap:35.25,leftTop:1832.6,rightTop:1638.3,leftX:2129,rightX:3121,nodeW:39.8,geneLayout:geneLabelLayoutC,metCenters:metaboliteCentersC,metFont:36.8,
  titles:[["Gene",2157,3659,74],["Metabolite",3156,3666,74]]});

// panel letters
const panelLetters=[["(A)",33,95],["(B)",40,1674],["(C)",1790,1675]];
svg.append("g").selectAll("text").data(panelLetters).join("text")
  .attr("x",d=>d[1]).attr("y",d=>d[2]).attr("dominant-baseline","central")
  .attr("font-family","'Open Sans','DejaVu Sans',sans-serif").attr("font-weight","bold").attr("font-size",104).attr("fill","#000").text(d=>d[0]);
</script>
</body>
</html>
